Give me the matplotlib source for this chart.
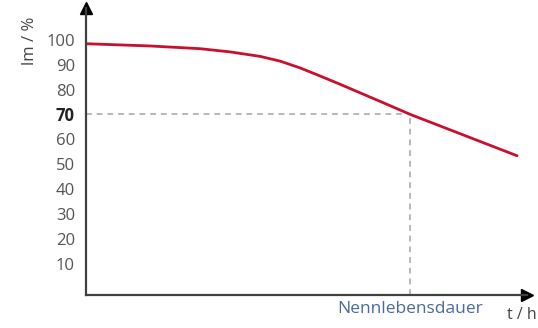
import matplotlib
matplotlib.use("Agg")
import matplotlib.pyplot as plt

# values (t in arbitrary units, lm in %)
t_vals = [0, 14.5, 25.9, 32.7, 39.5, 44.0, 48.5, 53.1, 57.6, 66.7, 73.5, 97.7]
lm_vals = [98.4, 97.5, 96.4, 95.1, 93.3, 91.4, 88.7, 85.4, 82.1, 75.2, 70.0, 53.4]
y_ticks = [10, 20, 30, 40, 50, 60, 70, 80, 90, 100]
lifetime_t = 73.5
lifetime_lm = 70

plt.rcParams["font.family"] = ["Open Sans", "DejaVu Sans"]

fig = plt.figure(figsize=(5.38, 3.28), dpi=100)
ax = fig.add_axes([0.16, 0.1, 0.82, 0.876])

axis_col = "#404040"

# dashed guide lines
ax.plot([0, lifetime_t], [lifetime_lm, lifetime_lm], color="#b8b8b8", lw=1.4,
        linestyle=(0, (3, 2.5)))
ax.plot([lifetime_t, lifetime_t], [-2.6, lifetime_lm], color="#b8b8b8", lw=1.4,
        linestyle=(0, (3, 2.5)))

# main curve
ax.plot(t_vals, lm_vals, color="#c8102e", lw=2, solid_capstyle="round",
        solid_joinstyle="round")

ax.set_xlim(0, 100)
ax.set_ylim(-2.6, 112.8)

for s in ["top", "right"]:
    ax.spines[s].set_visible(False)
for s in ["left", "bottom"]:
    ax.spines[s].set_color(axis_col)
    ax.spines[s].set_linewidth(1.6)

# arrow heads
ax.plot(0, 1, marker="^", color="black", markersize=9, transform=ax.transAxes, clip_on=False)
ax.plot(1, 0, marker=">", color="black", markersize=9, transform=ax.transAxes, clip_on=False)

ax.set_xticks([])
ax.set_yticks(y_ticks)
ax.set_yticklabels([str(v) for v in y_ticks])
ax.tick_params(axis="y", length=0, pad=8, labelsize=12, labelcolor="#555555")
for lab in ax.get_yticklabels():
    if lab.get_text() == "70":
        lab.set_color("#222222")
        lab.set_fontweight("bold")

# axis labels
fig.text(30 / 538, 1 - 41 / 328, "lm / %", rotation=90, ha="center", va="center",
         fontsize=12, color="#444444")
ax.text(lifetime_t, -5.0, "Nennlebensdauer", ha="center", va="top", fontsize=12.5,
        color="#4a6a9c")
fig.text(537 / 538, 1 - 315 / 328, "t / h", ha="right", va="center", fontsize=11.5,
         color="#444444")

fig.savefig("out.png", dpi=100)
